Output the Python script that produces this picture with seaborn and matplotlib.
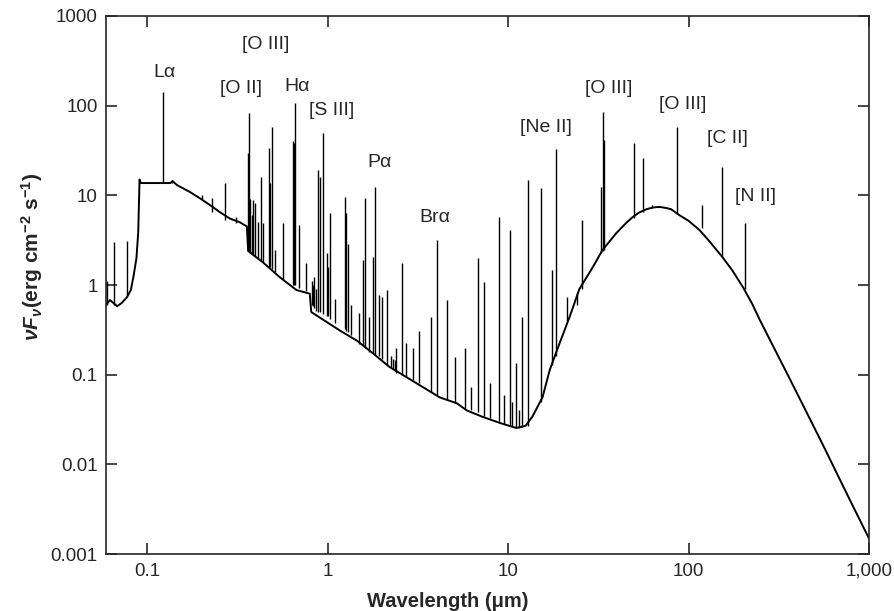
import numpy as np
import pandas as pd
import seaborn as sns
import matplotlib.pyplot as plt

# continuum of the model spectrum (wavelength in micron, nu F_nu)
cont_wave = [0.059, 0.062, 0.068, 0.072, 0.077, 0.081, 0.084, 0.087, 0.089, 0.0905,
             0.092, 0.134, 0.138, 0.146, 0.172, 0.195, 0.222, 0.252, 0.287, 0.326,
             0.356, 0.362, 0.394, 0.436, 0.54, 0.67, 0.795, 0.81, 1.17, 1.45,
             1.77, 2.2, 2.73, 3.36, 4.17, 5.2, 5.9, 7.2, 9.0, 11.1,
             12.5, 13.6, 15.5, 17.0, 19.3, 21.9, 24.8, 29.5, 33.3, 39.8,
             45, 48.9, 53, 58.5, 63, 67, 70, 75.5, 80, 89,
             100, 115, 130, 154, 175, 200, 225, 248, 300, 360,
             450, 560, 680, 800, 1000]
cont_flux = [0.60, 0.68, 0.58, 0.63, 0.73, 0.88, 1.29, 2.0, 3.9, 15.0,
             13.7, 13.7, 14.4, 13.0, 10.9, 9.3, 7.8, 6.5, 5.5, 5.0,
             4.5, 2.4, 2.1, 1.8, 1.23, 0.88, 0.8, 0.5, 0.31, 0.24,
             0.175, 0.122, 0.094, 0.073, 0.056, 0.048, 0.04, 0.034, 0.029, 0.0255,
             0.027, 0.034, 0.056, 0.113, 0.226, 0.44, 0.9, 1.59, 2.45, 3.8,
             4.9, 5.7, 6.4, 7.0, 7.3, 7.4, 7.4, 7.2, 7.0, 6.0,
             5.2, 4.1, 3.1, 2.05, 1.45, 0.95, 0.62, 0.41, 0.193, 0.094,
             0.0385, 0.016, 0.0072, 0.0037, 0.0015]

# emission lines: wavelength, continuum under the line, peak
line_wave = [0.060, 0.0655, 0.077, 0.1216, 0.137, 0.20, 0.228, 0.27, 0.31,
             0.36, 0.365, 0.372, 0.38, 0.385, 0.394, 0.41, 0.426, 0.436, 0.47,
             0.477, 0.49, 0.51, 0.563, 0.645, 0.65, 0.656, 0.69, 0.755, 0.82,
             0.83, 0.84, 0.86, 0.88, 0.9, 0.94, 0.99, 1.0, 1.03, 1.09,
             1.24, 1.27, 1.29, 1.35, 1.49, 1.56, 1.6, 1.69, 1.77, 1.82,
             1.92, 2.0, 2.12, 2.25, 2.3, 2.35, 2.4, 2.57, 2.73, 2.96,
             3.2, 3.72, 4.02, 4.56, 5.05, 5.74, 6.2, 6.77, 7.3, 7.9,
             8.87, 9.5, 10.2, 10.5, 11.1, 11.5, 12.0, 12.8, 15.3, 17.6,
             18.5, 21.3, 24.0, 25.5, 32.9, 33.4, 33.8, 50.0, 55.6, 63.0,
             86.8, 119, 154, 205]
line_base = [0.6, 0.6, 0.75, 13.7, 13.7, 9.0, 6.5, 5.3, 4.9,
             2.4, 2.4, 2.3, 2.2, 2.2, 2.1, 2.0, 1.9, 1.8, 1.6,
             1.6, 1.5, 1.4, 1.15, 1.0, 1.0, 1.0, 0.92, 0.85, 0.6,
             0.58, 0.55, 0.52, 0.5, 0.5, 0.48, 0.45, 0.45, 0.42, 0.38,
             0.32, 0.31, 0.3, 0.28, 0.22, 0.21, 0.2, 0.18, 0.175, 0.17,
             0.16, 0.15, 0.13, 0.12, 0.115, 0.11, 0.105, 0.1, 0.094, 0.088,
             0.08, 0.065, 0.06, 0.052, 0.048, 0.042, 0.04, 0.038, 0.035, 0.033,
             0.03, 0.028, 0.027, 0.027, 0.026, 0.0255, 0.026, 0.027, 0.05, 0.13,
             0.16, 0.4, 0.6, 0.9, 2.3, 2.4, 2.45, 5.6, 6.5, 7.2,
             6.2, 4.3, 2.05, 0.9]
line_peak = [1.1, 3.0, 3.1, 140, 14.8, 10.0, 9.3, 13.7, 5.7,
             30, 83, 9.0, 6.0, 8.9, 8.2, 5.0, 16, 4.9, 34,
             13.7, 58, 2.45, 4.9, 40, 38, 107, 4.66, 1.76, 1.1,
             1.0, 1.23, 0.9, 19, 16, 49, 2.27, 1.6, 6.3, 0.7,
             9.6, 6.3, 2.9, 0.6, 0.49, 1.9, 9.3, 0.44, 2.05, 12.4,
             0.77, 0.74, 0.88, 0.16, 0.15, 0.146, 0.2, 1.76, 0.226, 0.2,
             0.31, 0.44, 3.2, 0.68, 0.158, 0.2, 0.073, 2.0, 1.08, 0.081,
             5.7, 0.06, 4.1, 0.05, 0.135, 0.04, 0.44, 14.8, 12.0, 1.47,
             33, 0.73, 0.81, 5.3, 12.4, 85, 41, 38, 26, 7.8,
             58, 7.8, 20.7, 4.9]

# line identifications
label_text = ["L\u03b1", "[O III]", "[O II]", "H\u03b1", "[S III]", "P\u03b1",
              "Br\u03b1", "[Ne II]", "[O III]", "[O III]", "[C II]", "[N II]"]
label_x = [0.125, 0.453, 0.33, 0.673, 1.05, 1.94, 3.9, 16.1, 36, 92.6, 164, 235]
label_y = [231, 474, 157, 165, 89, 23.5, 5.6, 57.7, 157, 104, 43.5, 9.6]

xtick_vals = [0.1, 1, 10, 100, 1000]
xtick_text = ["0.1", "1", "10", "100", "1,000"]
ytick_vals = [0.001, 0.01, 0.1, 1, 10, 100, 1000]
ytick_text = ["0.001", "0.01", "0.1", "1", "10", "100", "1000"]

sns.set_style("ticks")
plt.rcParams["font.family"] = ["Liberation Sans", "DejaVu Sans"]
plt.rcParams["mathtext.fontset"] = "custom"
plt.rcParams["mathtext.rm"] = "Liberation Sans:bold"
plt.rcParams["mathtext.it"] = "Liberation Sans:italic:bold"
plt.rcParams["mathtext.bf"] = "Liberation Sans:bold"

fig, ax = plt.subplots(figsize=(8.94, 6.11), dpi=100)
fig.subplots_adjust(left=0.1186, right=0.972, top=0.974, bottom=0.093)

spec = pd.DataFrame({"wave": cont_wave, "flux": cont_flux})
sns.lineplot(data=spec, x="wave", y="flux", color="black", linewidth=1.4,
             estimator=None, sort=False, ax=ax)
ax.vlines(line_wave, line_base, line_peak, color="black", linewidth=1.0)

ax.set_xscale("log")
ax.set_yscale("log")
ax.set_xlim(0.059, 1000)
ax.set_ylim(0.001, 1000)

for t, x, y in zip(label_text, label_x, label_y):
    ax.text(x, y, t, ha="center", va="center", fontsize=14)

ax.set_xticks(xtick_vals)
ax.set_xticklabels(xtick_text)
ax.set_yticks(ytick_vals)
ax.set_yticklabels(ytick_text)
ax.minorticks_off()
ax.tick_params(direction="in", length=8, width=1.2, labelsize=13.5,
               top=True, right=True, pad=6)
for s in ax.spines.values():
    s.set_linewidth(1.2)

ax.set_xlabel("Wavelength (\u03bcm)", fontsize=14.5, fontweight="bold")
ax.xaxis.set_label_coords(0.448, -0.07)
ax.set_ylabel(r"$\nu F_\nu$(erg cm$^{-2}$ s$^{-1}$)", fontsize=15,
              fontweight="bold")
ax.yaxis.set_label_coords(-0.08, 0.552)

fig.savefig("out.png", dpi=100)
